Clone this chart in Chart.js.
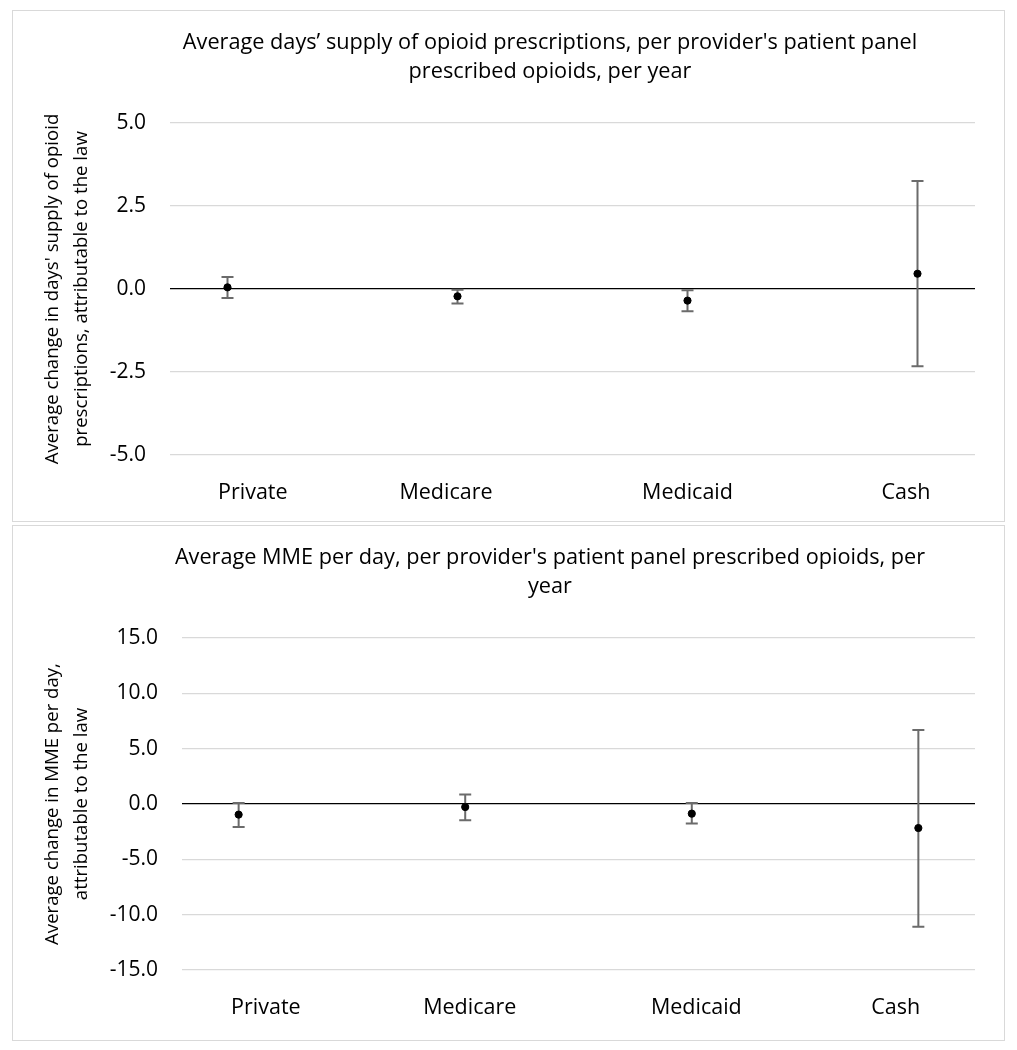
<!DOCTYPE html>
<html>
<head>
<meta charset="utf-8">
<script src="https://cdn.jsdelivr.net/npm/chart.js@4/dist/chart.umd.min.js"></script>
<style>
  body { margin: 0; background: #fff; }
  .panel { position: absolute; left: 12px; width: 993px; box-sizing: border-box; border: 1px solid #d9d9d9; background: #fff; }
  #p1 { top: 10px; height: 512px; }
  #p2 { top: 525px; height: 516px; }
  canvas { display: block; }
  .title {
    position: absolute; left: 537px; top: 14.5px; transform: translateX(-50%);
    white-space: nowrap; text-align: center;
    font-family: "Open Sans", sans-serif; font-size: 21.7px; line-height: 29px; color: #000;
  }
</style>
</head>
<body>
<div class="panel" id="p1">
  <canvas id="daysChart" width="991" height="510"></canvas>
  <div class="title">Average days’ supply of opioid prescriptions, per provider's patient panel<br>prescribed opioids, per year</div>
</div>
<div class="panel" id="p2">
  <canvas id="mmeChart" width="991" height="514"></canvas>
  <div class="title">Average MME per day, per provider's patient panel prescribed opioids, per<br>year</div>
</div>
<script>
// payer groups and where they sit on the x axis
const categories = ['Private', 'Medicare', 'Medicaid', 'Cash'];
const xPos = [1, 2, 3, 4];

// days' supply: estimate and 95% CI
const daysEst = [0.05, -0.22, -0.35, 0.46];
const daysHi = [0.36, -0.02, -0.04, 3.25];
const daysLo = [-0.27, -0.44, -0.67, -2.33];
const daysLabelPos = [1.11, 1.95, 3.0, 3.95];

// MME per day: estimate and 95% CI
const mmeEst = [-0.96, -0.27, -0.87, -2.17];
const mmeHi = [0.09, 0.85, 0.09, 6.69];
const mmeLo = [-2.07, -1.47, -1.77, -11.09];
const mmeLabelPos = [1.12, 2.02, 3.02, 3.9];

const FONT = '"Open Sans", sans-serif';

// whiskers drawn under the points, using the chart's scales
const errorBars = {
  id: 'errorBars',
  beforeDatasetsDraw(chart, args, opts) {
    const { ctx, scales: { x, y } } = chart;
    ctx.save();
    ctx.strokeStyle = '#6b6b6b';
    ctx.lineWidth = 2;
    opts.lo.forEach((lo, i) => {
      const px = x.getPixelForValue(xPos[i]);
      const yl = y.getPixelForValue(lo);
      const yh = y.getPixelForValue(opts.hi[i]);
      ctx.beginPath();
      ctx.moveTo(px, yl); ctx.lineTo(px, yh);
      ctx.moveTo(px - 6, yl); ctx.lineTo(px + 6, yl);
      ctx.moveTo(px - 6, yh); ctx.lineTo(px + 6, yh);
      ctx.stroke();
    });
    ctx.restore();
  }
};

function makeChart(id, yTitle, est, lo, hi, labelPos, yMin, yMax, yStep, yWidth, xHeight) {
  return new Chart(document.getElementById(id), {
    type: 'scatter',
    data: {
      datasets: [{
        data: est.map((v, i) => ({ x: xPos[i], y: v })),
        pointRadius: 3.6,
        pointHoverRadius: 3.6,
        backgroundColor: '#000',
        borderColor: '#000'
      }]
    },
    plugins: [errorBars],
    options: {
      responsive: false,
      animation: false,
      devicePixelRatio: 1,
      layout: { padding: { left: 0, right: 29, top: 112, bottom: 0 } },
      plugins: {
        legend: { display: false },
        tooltip: { enabled: false },
        title: { display: false },
        errorBars: { lo: lo, hi: hi }
      },
      scales: {
        x: {
          type: 'linear',
          min: 0.75,
          max: 4.25,
          grid: { display: false, drawTicks: false },
          border: { display: false },
          afterBuildTicks: s => { s.ticks = labelPos.map(v => ({ value: v })); },
          afterFit: s => { s.height = xHeight; },
          ticks: {
            autoSkip: false,
            maxRotation: 0,
            padding: 25,
            color: '#000',
            font: { family: FONT, size: 21.5 },
            callback: (v, i) => categories[i]
          }
        },
        y: {
          min: yMin,
          max: yMax,
          afterFit: s => { s.width = yWidth; },
          border: { display: false },
          grid: {
            drawTicks: false,
            lineWidth: 1.2,
            color: c => (c.tick && c.tick.value === 0 ? '#000' : '#d9d9d9')
          },
          ticks: {
            stepSize: yStep,
            padding: 24,
            color: '#000',
            font: { family: FONT, size: 21 },
            callback: v => v.toFixed(1)
          },
          title: {
            display: true,
            text: yTitle,
            color: '#000',
            font: { family: FONT, size: 18.6, lineHeight: 1.56 },
            padding: { top: 25.5, bottom: 0 }
          }
        }
      }
    }
  });
}

makeChart('daysChart',
  ['Average change in days\' supply of opioid', 'prescriptions, attributable to the law'],
  daysEst, daysLo, daysHi, daysLabelPos, -5, 5, 2.5, 157, 66);

makeChart('mmeChart',
  ['Average change in MME per day,', 'attributable to the law'],
  mmeEst, mmeLo, mmeHi, mmeLabelPos, -15, 15, 5, 169, 70);
</script>
</body>
</html>
